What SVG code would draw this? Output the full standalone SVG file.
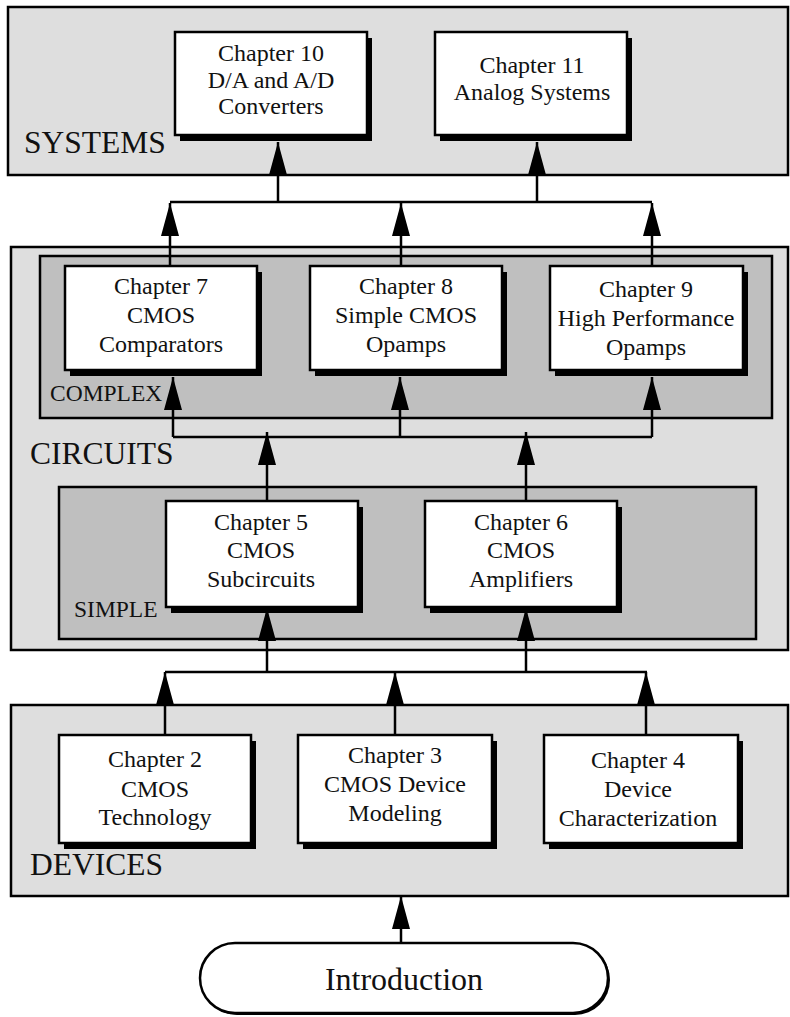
<svg xmlns="http://www.w3.org/2000/svg" width="790" height="1017" viewBox="0 0 790 1017">
  <style>
    .panel { fill: #dedede; stroke: #000; stroke-width: 2.5; }
    .sub { fill: #bfbfbf; stroke: #000; stroke-width: 2.5; }
    .box { fill: #fff; stroke: #000; stroke-width: 2.5; }
    .shadow { fill: #000; }
    .txt { font-family: "Liberation Serif", "Times New Roman", serif; font-size: 24px; fill: #111; text-anchor: middle; }
    .big { font-family: "Liberation Serif", "Times New Roman", serif; font-size: 31.5px; fill: #111; }
    .small { font-family: "Liberation Serif", "Times New Roman", serif; font-size: 23.5px; fill: #111; }
    .wire { fill: none; stroke: #000; stroke-width: 2.5; }
  </style>
  <defs>
    <marker id="head" markerUnits="userSpaceOnUse" markerWidth="34" markerHeight="20" refX="33" refY="10" orient="auto" overflow="visible">
      <path d="M0,1 L33,10 L0,19 Z" fill="#000"/>
    </marker>
  </defs>

  <!-- layer panels -->
  <g id="systems">
    <rect class="panel" x="8" y="7" width="780" height="168"/>
    <text class="big" x="24" y="153">SYSTEMS</text>
  </g>
  <g id="circuits">
    <rect class="panel" x="11" y="247" width="777" height="403"/>
    <text class="big" x="30" y="464">CIRCUITS</text>
  </g>
  <g id="complex">
    <rect class="sub" x="40" y="256" width="732" height="162"/>
    <text class="small" x="50" y="401">COMPLEX</text>
  </g>
  <g id="simple">
    <rect class="sub" x="59" y="487" width="697" height="152"/>
    <text class="small" x="74" y="617">SIMPLE</text>
  </g>
  <g id="devices">
    <rect class="panel" x="11" y="705" width="777" height="191"/>
    <text class="big" x="30" y="875">DEVICES</text>
  </g>

  <!-- chapter boxes -->
  <g id="ch10">
    <rect class="shadow" x="180" y="38" width="192" height="103"/>
    <rect class="box" x="175" y="32" width="192" height="103"/>
    <text class="txt" x="271" y="61">Chapter 10</text>
    <text class="txt" x="271" y="88">D/A and A/D</text>
    <text class="txt" x="271" y="114">Converters</text>
  </g>
  <g id="ch11">
    <rect class="shadow" x="440" y="38" width="192" height="103"/>
    <rect class="box" x="435" y="32" width="192" height="103"/>
    <text class="txt" x="532" y="73">Chapter 11</text>
    <text class="txt" x="532" y="100">Analog Systems</text>
  </g>
  <g id="ch7">
    <rect class="shadow" x="70" y="272" width="192" height="104"/>
    <rect class="box" x="65" y="266" width="192" height="104"/>
    <text class="txt" x="161" y="294">Chapter 7</text>
    <text class="txt" x="161" y="323">CMOS</text>
    <text class="txt" x="161" y="352">Comparators</text>
  </g>
  <g id="ch8">
    <rect class="shadow" x="315" y="272" width="192" height="104"/>
    <rect class="box" x="310" y="266" width="192" height="104"/>
    <text class="txt" x="406" y="294">Chapter 8</text>
    <text class="txt" x="406" y="323">Simple CMOS</text>
    <text class="txt" x="406" y="352">Opamps</text>
  </g>
  <g id="ch9">
    <rect class="shadow" x="555" y="272" width="193" height="104"/>
    <rect class="box" x="550" y="266" width="193" height="104"/>
    <text class="txt" x="646" y="297">Chapter 9</text>
    <text class="txt" x="646" y="326">High Performance</text>
    <text class="txt" x="646" y="355">Opamps</text>
  </g>
  <g id="ch5">
    <rect class="shadow" x="171" y="507" width="192" height="106"/>
    <rect class="box" x="166" y="501" width="192" height="106"/>
    <text class="txt" x="261" y="530">Chapter 5</text>
    <text class="txt" x="261" y="558">CMOS</text>
    <text class="txt" x="261" y="587">Subcircuits</text>
  </g>
  <g id="ch6">
    <rect class="shadow" x="430" y="507" width="192" height="106"/>
    <rect class="box" x="425" y="501" width="192" height="106"/>
    <text class="txt" x="521" y="530">Chapter 6</text>
    <text class="txt" x="521" y="558">CMOS</text>
    <text class="txt" x="521" y="587">Amplifiers</text>
  </g>
  <g id="ch2">
    <rect class="shadow" x="64" y="741" width="192" height="108"/>
    <rect class="box" x="59" y="735" width="192" height="108"/>
    <text class="txt" x="155" y="767">Chapter 2</text>
    <text class="txt" x="155" y="797">CMOS</text>
    <text class="txt" x="155" y="825">Technology</text>
  </g>
  <g id="ch3">
    <rect class="shadow" x="303" y="741" width="194" height="108"/>
    <rect class="box" x="298" y="735" width="194" height="108"/>
    <text class="txt" x="395" y="763">Chapter 3</text>
    <text class="txt" x="395" y="792">CMOS Device</text>
    <text class="txt" x="395" y="821">Modeling</text>
  </g>
  <g id="ch4">
    <rect class="shadow" x="549" y="741" width="194" height="108"/>
    <rect class="box" x="544" y="735" width="194" height="108"/>
    <text class="txt" x="638" y="768">Chapter 4</text>
    <text class="txt" x="638" y="797">Device</text>
    <text class="txt" x="638" y="826">Characterization</text>
  </g>
  <g id="intro">
    <rect class="shadow" x="202" y="945" width="408" height="70" rx="35"/>
    <rect class="box" x="200" y="943" width="408" height="70" rx="35"/>
    <text class="txt" x="404" y="990" style="font-size:32px">Introduction</text>
  </g>

  <!-- connectors -->
  <g id="connectors">
    <!-- into SYSTEMS -->
    <path class="wire" d="M170,202 H652"/>
    <path class="wire" d="M278,202 V142" marker-end="url(#head)"/>
    <path class="wire" d="M537,202 V142" marker-end="url(#head)"/>
    <path class="wire" d="M170,266 V203" marker-end="url(#head)"/>
    <path class="wire" d="M401,266 V203" marker-end="url(#head)"/>
    <path class="wire" d="M652,266 V203" marker-end="url(#head)"/>
    <!-- into COMPLEX -->
    <path class="wire" d="M173,437 H652"/>
    <path class="wire" d="M173,437 V377" marker-end="url(#head)"/>
    <path class="wire" d="M400,437 V377" marker-end="url(#head)"/>
    <path class="wire" d="M652,437 V377" marker-end="url(#head)"/>
    <path class="wire" d="M267,501 V432" marker-end="url(#head)"/>
    <path class="wire" d="M526,501 V432" marker-end="url(#head)"/>
    <!-- into SIMPLE -->
    <path class="wire" d="M165,672 H647"/>
    <path class="wire" d="M267,672 V608" marker-end="url(#head)"/>
    <path class="wire" d="M526,672 V608" marker-end="url(#head)"/>
    <path class="wire" d="M165,735 V672" marker-end="url(#head)"/>
    <path class="wire" d="M395,735 V672" marker-end="url(#head)"/>
    <path class="wire" d="M646,735 V672" marker-end="url(#head)"/>
    <!-- into DEVICES -->
    <path class="wire" d="M401,943 V896" marker-end="url(#head)"/>
  </g>
</svg>
